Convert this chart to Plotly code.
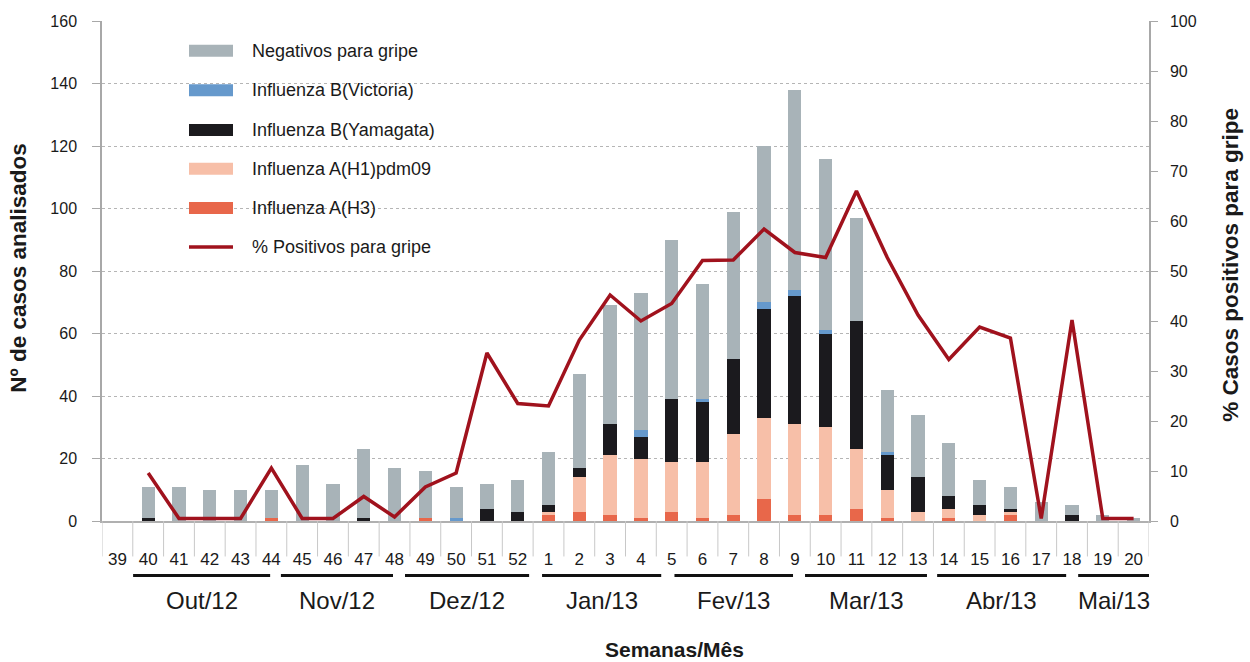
import plotly.graph_objects as go

weeks = ["39","40","41","42","43","44","45","46","47","48","49","50","51","52",
         "1","2","3","4","5","6","7","8","9","10","11","12","13","14","15","16","17","18","19","20"]

h3       = [0,0,0,0,0,1,0,0,0,0,1,0,0,0, 2,3,2,1,3,1,2,7,2,2,4,1,0,1,0,2,0,0,0,0]
h1       = [0,0,0,0,0,0,0,0,0,0,0,0,0,0, 1,11,19,19,16,18,26,26,29,28,19,9,3,3,2,1,0,0,0,0]
yamagata = [0,1,0,0,0,0,0,0,1,0,0,0,4,3, 2,3,10,7,20,19,24,35,41,30,41,11,11,4,3,1,0,2,0,0]
victoria = [0,0,0,0,0,0,0,0,0,0,0,1,0,0, 0,0,0,2,0,1,0,2,2,1,0,1,0,0,0,0,0,0,0,0]
negativos= [0,10,11,10,10,9,18,12,22,17,15,10,8,10, 17,30,38,44,51,37,47,50,64,55,33,20,20,17,8,7,6,3,2,1]

pct_weeks = weeks[1:]
pct_pos = [9.6,0.5,0.5,0.5,10.6,0.5,0.5,4.9,0.8,6.8,9.6,33.6,23.5,
           23.0,36.2,45.2,40.0,43.5,52.1,52.2,58.4,53.7,52.7,66.0,52.7,41.2,32.3,38.8,36.6,0.5,40.2,0.5,0.5]

months = ["Out/12","Nov/12","Dez/12","Jan/13","Fev/13","Mar/13","Abr/13","Mai/13"]
month_spans = [(0.51,4.96),(5.31,8.95),(9.34,13.37),(13.79,17.66),(18.09,21.94),(22.33,26.29),(26.62,30.81),(31.2,33.5)]

names = ["Influenza A(H3)","Influenza A(H1)pdm09","Influenza B(Yamagata)","Influenza B(Victoria)","Negativos para gripe"]
colors = ["#e8674a","#f7bfa8","#1b1a1e","#6699cc","#a8b3b8"]
LINE = "#a0121d"

fig = go.Figure()
for nm, vals, c in zip(names, [h3,h1,yamagata,victoria,negativos], colors):
    fig.add_trace(go.Bar(x=weeks, y=vals, name=nm, marker=dict(color=c, line=dict(width=0)), showlegend=False))
fig.add_trace(go.Scatter(x=pct_weeks, y=pct_pos, yaxis="y2", mode="lines", name="% Positivos para gripe",
                         line=dict(color=LINE, width=3.5), showlegend=False))

L, R, T, B = 102, 1149, 21, 521.5
W, H = R - L, B - T
def px(x): return (x - L) / W
def py(y): return (B - y) / H

SANS = "Liberation Sans, Arial, Helvetica, sans-serif"
TXT = "#1a1a1a"

shapes = []
annotations = []
# category separators below axis
for i in range(len(weeks) + 1):
    shapes.append(dict(type="line", xref="x", yref="paper", x0=i - 0.5, x1=i - 0.5, y0=0, y1=py(557),
                       line=dict(color="#c8c8c8", width=1)))
# month lines and labels
for m, (a, b) in zip(months, month_spans):
    shapes.append(dict(type="line", xref="x", yref="paper", x0=a, x1=b, y0=py(576), y1=py(576),
                       line=dict(color="#111111", width=3)))
    annotations.append(dict(text=m, xref="x", yref="paper", x=(a + b) / 2, y=py(601), showarrow=False,
                            font=dict(size=24, family=SANS, color=TXT), xanchor="center", yanchor="middle"))

# custom legend
leg_rows = [("Negativos para gripe", "#a8b3b8", 50.7), ("Influenza B(Victoria)", "#6699cc", 90.3),
            ("Influenza B(Yamagata)", "#1b1a1e", 130), ("Influenza A(H1)pdm09", "#f7bfa8", 169),
            ("Influenza A(H3)", "#e8674a", 208.3)]
for txt, c, yc in leg_rows:
    shapes.append(dict(type="rect", xref="paper", yref="paper", x0=px(189), x1=px(233), y0=py(yc - 6), y1=py(yc + 6),
                       fillcolor=c, line=dict(width=0)))
    annotations.append(dict(text=txt, xref="paper", yref="paper", x=px(250), y=py(yc), showarrow=False,
                            xanchor="left", yanchor="middle", font=dict(size=18, family=SANS, color=TXT)))
shapes.append(dict(type="line", xref="paper", yref="paper", x0=px(189), x1=px(233), y0=py(247.3), y1=py(247.3),
                   line=dict(color=LINE, width=3.5)))
annotations.append(dict(text="% Positivos para gripe", xref="paper", yref="paper", x=px(250), y=py(247.3), showarrow=False,
                        xanchor="left", yanchor="middle", font=dict(size=18, family=SANS, color=TXT)))

# axis titles
annotations.append(dict(text="<b>Nº de casos analisados</b>", xref="paper", yref="paper", x=px(19), y=py(268),
                        textangle=-90, showarrow=False, xanchor="center", yanchor="middle",
                        font=dict(size=22.5, family=SANS, color=TXT)))
annotations.append(dict(text="<b>% Casos positivos para gripe</b>", xref="paper", yref="paper", x=px(1231), y=py(265),
                        textangle=-90, showarrow=False, xanchor="center", yanchor="middle",
                        font=dict(size=22.5, family=SANS, color=TXT)))
annotations.append(dict(text="<b>Semanas/Mês</b>", xref="paper", yref="paper", x=px(674), y=py(650),
                        showarrow=False, xanchor="center", yanchor="middle",
                        font=dict(size=21, family=SANS, color=TXT)))

fig.update_layout(
    width=1250, height=662,
    margin=dict(l=L, r=1250 - R, t=T, b=662 - B),
    paper_bgcolor="white", plot_bgcolor="white",
    barmode="stack", bargap=0.57,
    showlegend=False,
    xaxis=dict(type="category", categoryorder="array", categoryarray=weeks,
               showgrid=False, zeroline=False, showline=True, linecolor="#b0b0b0", linewidth=2,
               ticks="", ticklabelstandoff=22, tickfont=dict(size=17, family=SANS, color=TXT),
               range=[-0.5, 33.5]),
    yaxis=dict(range=[0, 160], dtick=20, showgrid=True, gridcolor="#b5b5b5", griddash="dot", gridwidth=1,
               zeroline=False, showline=True, linecolor="#a8a8a8", linewidth=1.5, ticks="outside", ticklen=8,
               tickcolor="#a8a8a8", ticklabelstandoff=12, tickfont=dict(size=16, family=SANS, color=TXT)),
    yaxis2=dict(range=[0, 100], dtick=10, overlaying="y", side="right", showgrid=False, zeroline=False,
                showline=True, linecolor="#a8a8a8", linewidth=1.5, ticks="outside", ticklen=7, tickcolor="#a8a8a8",
                ticklabelstandoff=9, tickfont=dict(size=16, family=SANS, color=TXT)),
    shapes=shapes, annotations=annotations,
)

fig.write_html("out.html", config={"displayModeBar": False},
               post_script="document.body.style.margin='0';document.body.style.padding='0';")
